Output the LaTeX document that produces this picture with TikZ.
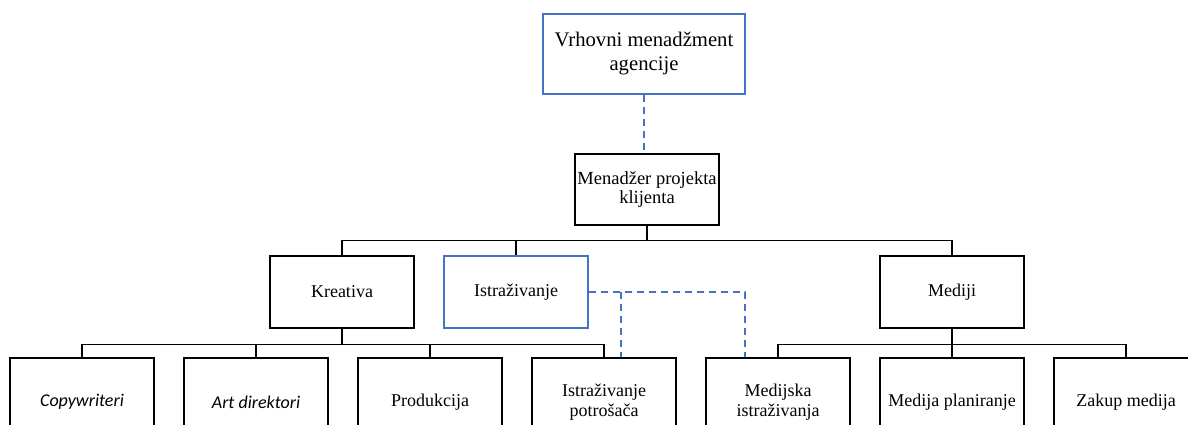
\documentclass[tikz,border=0pt]{standalone}
\usepackage{fontspec}
\setmainfont{Liberation Serif}
\newfontfamily\sansit{Carlito}
\usetikzlibrary{positioning}
\definecolor{orgblue}{RGB}{68,114,196}

\begin{document}
\begin{tikzpicture}[x=1pt, y=-1pt, node distance=28.5pt,
   box/.style={rectangle, draw, line width=1.5pt, minimum width=144pt, minimum height=72pt,
      align=center, inner sep=2pt, font=\fontsize{18}{20}\selectfont},
   bluebox/.style={box, draw=orgblue},
   leaf/.style={box, minimum height=88pt},
   tree/.style={line width=1.4pt},
   link/.style={orgblue, line width=1.5pt, dash pattern=on 7pt off 5pt}]
   \useasboundingbox (0,0) rectangle (1188,425);
   \clip (0,0) rectangle (1188,425);
   % top levels
   \node[bluebox, minimum width=202pt, minimum height=80pt, font=\fontsize{20.7}{24}\selectfont]
      (uprava) at (644,54) {Vrhovni menadžment\\agencije};
   \node[box, minimum height=71pt, font=\fontsize{18.5}{18.5}\selectfont]
      (menadzer) at (647,189.5) {Menadžer projekta\\klijenta};
   \node[box] (kreativa) at (342,292) {Kreativa};
   \node[bluebox] (istr) at (516,292) {Istraživanje};
   \node[box] (mediji) at (952,292) {Mediji};
   % bottom row
   \node[leaf] (copy) at (82,402) {\sansit\itshape Copywriteri};
   \node[leaf, right=of copy] (art) {\sansit\itshape Art direktori};
   \node[leaf, right=of art] (prod) {Produkcija};
   \node[leaf, right=of prod] (istpot) {Istraživanje\\potrošača};
   \node[leaf, right=of istpot] (medist) {Medijska\\istraživanja};
   \node[leaf, right=of medist] (plan) {Medija planiranje};
   \node[leaf, right=of plan] (zakup) {Zakup medija};
   % lines
   \draw[link] (uprava.south) -- (uprava.south |- menadzer.north);
   \draw[tree] (menadzer.south) -- ++(0,15) coordinate (bus1);
   \draw[tree] (kreativa.north) |- (bus1) -| (mediji.north);
   \draw[tree] (istr.north) -- (istr.north |- bus1);
   \draw[tree] (kreativa.south) -- ++(0,16) coordinate (bus2);
   \draw[tree] (copy.north) |- (bus2) -| (istpot.north);
   \draw[tree] (art.north) -- (art.north |- bus2);
   \draw[tree] (prod.north) -- (prod.north |- bus2);
   \draw[tree] (mediji.south) -- ++(0,16) coordinate (bus3);
   \draw[tree] (medist.north) |- (bus3) -| (zakup.north);
   \draw[tree] (plan.north) -- (plan.north |- bus3);
   % dashed links from Istrazivanje
   \coordinate (split) at (621,292);
   \coordinate (corner) at (745,292);
   \draw[link] (istr.east) -- (corner) -- (corner |- medist.north);
   \draw[link] (split) -- (split |- istpot.north);
\end{tikzpicture}
\end{document}
